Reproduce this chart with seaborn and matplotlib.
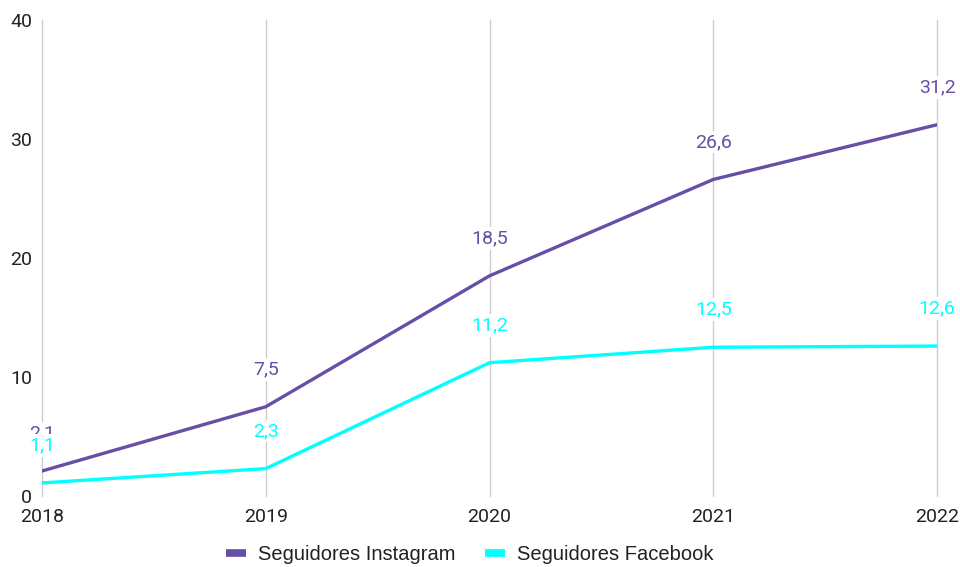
import matplotlib
matplotlib.use("Agg")
import matplotlib.pyplot as plt
import seaborn as sns
import pandas as pd

years = [2018, 2019, 2020, 2021, 2022]
instagram = [2.1, 7.5, 18.5, 26.6, 31.2]
facebook = [1.1, 2.3, 11.2, 12.5, 12.6]
series_names = ["Seguidores Instagram", "Seguidores Facebook"]
colors = ["#674ea7", "#00ffff"]
y_ticks = [0, 10, 20, 30, 40]

sns.set_theme(style="white")
plt.rcParams['font.family'] = ['Roboto', 'DejaVu Sans']

df = pd.DataFrame({
    "year": years * 2,
    "value": instagram + facebook,
    "series": [series_names[0]] * len(years) + [series_names[1]] * len(years),
})

fig = plt.figure(figsize=(9.6, 5.67), dpi=100)
ax = fig.add_axes([42/960, 1 - 496/567, (937-42)/960, (496-20)/567])

sns.lineplot(data=df, x="year", y="value", hue="series", palette=colors,
             linewidth=2.4, ax=ax, legend=True, zorder=3)

ax.set_xlim(2018, 2022)
ax.set_ylim(0, 40)
ax.set_xticks(years)
ax.set_xticklabels([str(y) for y in years])
ax.set_yticks(y_ticks)
ax.set_xlabel("")
ax.set_ylabel("")
for s in ax.spines.values():
    s.set_visible(False)
ax.grid(axis="x", color="#cccccc", linewidth=1, zorder=0)
ax.grid(axis="y", visible=False)
for gl in ax.get_xgridlines():
    gl.set_clip_on(False)
ax.tick_params(axis="both", length=0, labelsize=14, colors="#222222")
ax.tick_params(axis="x", pad=9)
ax.tick_params(axis="y", pad=7)

for vals, col in [(instagram, colors[0]), (facebook, colors[1])]:
    for x, v in zip(years, vals):
        ax.annotate(f"{v}".replace(".", ","), (x, v), xytext=(0, 27),
                    textcoords="offset points", ha="center", va="center",
                    fontsize=14, color=col, zorder=4, annotation_clip=False,
                    bbox=dict(boxstyle="square,pad=0.12", fc="white", ec="none"))

leg = ax.legend(loc="center", bbox_to_anchor=(470/960, 1 - 555/567),
                bbox_transform=fig.transFigure, ncol=2, borderaxespad=0, borderpad=0,
                frameon=False, prop={"family": ["Liberation Sans", "DejaVu Sans"], "size": 14.5},
                handlelength=1.0, columnspacing=1.45, handletextpad=0.6)
for h in leg.get_lines():
    h.set_linewidth(5.5)
    h.set_solid_capstyle("butt")
for t in leg.get_texts():
    t.set_color("#222222")

fig.savefig("out.png", dpi=100)
